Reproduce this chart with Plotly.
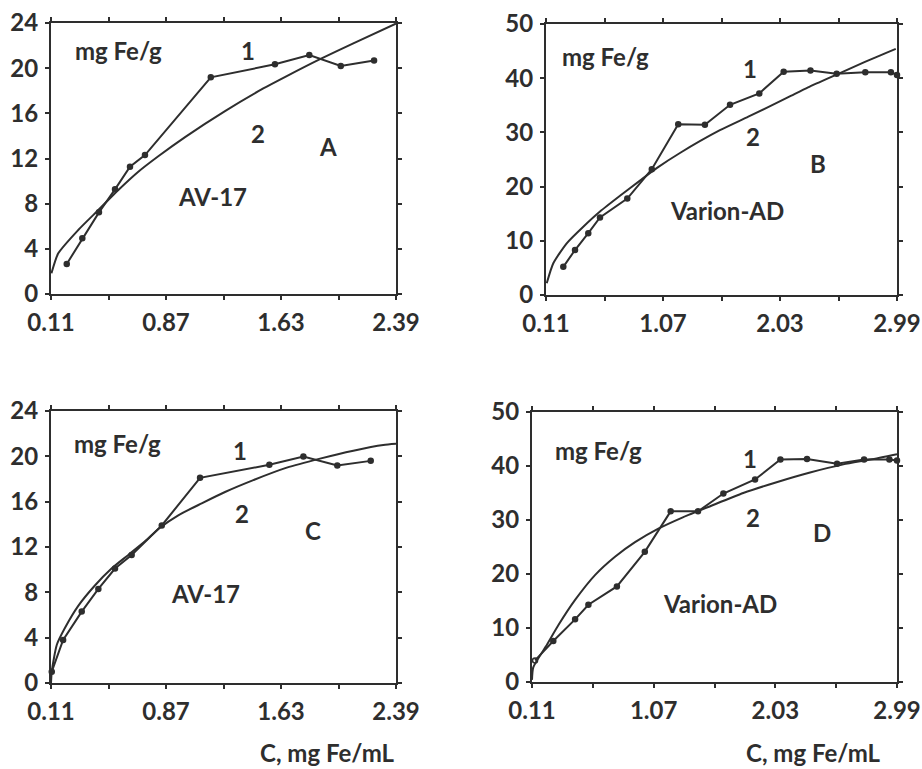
import plotly.graph_objects as go

# ---- Panel A: AV-17 ----
a1_x = [0.214, 0.317, 0.427, 0.533, 0.632, 0.731, 1.166, 1.59, 1.817, 2.025, 2.245]
a1_y = [2.66, 4.93, 7.23, 9.27, 11.28, 12.3, 19.19, 20.34, 21.17, 20.2, 20.67]
a2_x = [0.113, 0.158, 0.29, 0.423, 0.555, 0.687, 0.819, 0.996, 1.26, 1.513, 1.668, 1.888, 2.108, 2.39]
a2_y = [1.83, 3.6, 5.67, 7.44, 9.21, 10.83, 12.2, 13.9, 16.2, 18.2, 19.3, 20.8, 22.2, 23.95]

# ---- Panel B: Varion-AD ----
b1_x = [0.252, 0.348, 0.457, 0.553, 0.777, 0.978, 1.195, 1.414, 1.62, 1.86, 2.06, 2.28, 2.495, 2.73, 2.94, 2.99]
b1_y = [5.2, 8.3, 11.4, 14.3, 17.8, 23.2, 31.5, 31.4, 35.1, 37.2, 41.2, 41.4, 40.8, 41.1, 41.1, 40.6]
b2_x = [0.116, 0.17, 0.28, 0.416, 0.553, 0.717, 0.881, 1.018, 1.209, 1.537, 1.77, 2.098, 2.26, 2.508, 2.727, 2.98]
b2_y = [2.16, 5.85, 9.54, 12.6, 15.4, 18.3, 21.1, 23.4, 26.2, 30.4, 32.9, 36.5, 38.3, 40.8, 43.0, 45.4]

# ---- Panel C: AV-17 ----
c1_x = [0.115, 0.19, 0.313, 0.423, 0.533, 0.643, 0.842, 1.095, 1.553, 1.778, 2.002, 2.223]
c1_y = [1.0, 3.8, 6.3, 8.3, 10.1, 11.3, 13.9, 18.1, 19.25, 19.98, 19.2, 19.6]
c2_x = [0.11, 0.115, 0.148, 0.2, 0.29, 0.4, 0.51, 0.621, 0.731, 0.83, 0.951, 1.106, 1.26, 1.447, 1.668, 1.888, 2.108, 2.306, 2.39]
c2_y = [0.0, 1.0, 3.35, 4.8, 6.8, 8.6, 10.1, 11.3, 12.5, 13.7, 14.8, 15.85, 16.85, 17.9, 19.0, 19.8, 20.5, 21.0, 21.1]

# ---- Panel D: Varion-AD ----
d1_x = [0.134, 0.278, 0.45, 0.555, 0.78, 1.0, 1.204, 1.42, 1.62, 1.87, 2.07, 2.28, 2.517, 2.73, 2.93, 2.99]
d1_y = [4.0, 7.6, 11.6, 14.3, 17.7, 24.1, 31.6, 31.6, 34.9, 37.5, 41.2, 41.3, 40.4, 41.2, 41.2, 41.0]
d2_x = [0.11, 0.12, 0.22, 0.32, 0.45, 0.607, 0.765, 0.923, 1.107, 1.30, 1.52, 1.777, 2.04, 2.304, 2.567, 2.78, 2.99]
d2_y = [0.4, 2.7, 6.6, 10.6, 15.2, 19.8, 23.2, 25.9, 28.4, 30.5, 32.6, 35.0, 37.0, 38.8, 40.3, 41.2, 42.2]

# axis ticks
x_ticks_av = [0.11, 0.49, 0.87, 1.25, 1.63, 2.01, 2.39]
x_text_av = ["0.11", "", "0.87", "", "1.63", "", "2.39"]
x_ticks_var = [0.11, 0.59, 1.07, 1.55, 2.03, 2.51, 2.99]
x_text_var = ["0.11", "", "1.07", "", "2.03", "", "2.99"]
y_ticks_av = [0, 4, 8, 12, 16, 20, 24]
y_ticks_var = [0, 10, 20, 30, 40, 50]

x_title = "C, mg Fe/mL"
y_unit = "mg Fe/g"

INK = "#2e2e2e"
FONT = "Lato, Open Sans, sans-serif"
FS = 24

W, H = 922, 769


def dom_x(a, b):
    return [a / W, b / W]


def dom_y(top, bottom):
    return [1 - bottom / H, 1 - top / H]


panels = [
    # suffix, curve1, curve2, xticks, xtext, yticks, xrange, yrange, x px span, y px span, material, letter
    ("", (a1_x, a1_y), (a2_x, a2_y), x_ticks_av, x_text_av, y_ticks_av, [0.11, 2.39], [0, 24], (51, 396), (23, 294), "AV-17", "A"),
    ("2", (b1_x, b1_y), (b2_x, b2_y), x_ticks_var, x_text_var, y_ticks_var, [0.11, 2.99], [0, 50], (546, 897), (24, 295), "Varion-AD", "B"),
    ("3", (c1_x, c1_y), (c2_x, c2_y), x_ticks_av, x_text_av, y_ticks_av, [0.11, 2.39], [0, 24], (51, 396), (411, 683), "AV-17", "C"),
    ("4", (d1_x, d1_y), (d2_x, d2_y), x_ticks_var, x_text_var, y_ticks_var, [0.11, 2.99], [0, 50], (532, 897), (412, 682), "Varion-AD", "D"),
]

# text positions inside each panel (pixel centres on the page)
label_px = {
    "A": dict(unit=(118, 50), one=(248, 50), two=(258, 133), letter=(328, 147), mat=(212, 197)),
    "B": dict(unit=(605, 57), one=(750, 68), two=(753, 137), letter=(818, 163), mat=(727, 210)),
    "C": dict(unit=(117, 443), one=(240, 450), two=(242, 513), letter=(313, 530), mat=(205, 593)),
    "D": dict(unit=(598, 450), one=(750, 458), two=(753, 517), letter=(822, 532), mat=(720, 603)),
}


def page_text(px, py, txt):
    return dict(x=px / W, y=1 - py / H, xref="paper", yref="paper", text=txt, showarrow=False,
                xanchor="center", yanchor="middle",
                font=dict(family=FONT, size=FS, color=INK, weight="bold"))


fig = go.Figure()
annotations = []

for sfx, c1, c2, xt, xtx, yt, xr, yr, xd, yd, mat, letter in panels:
    xa = "x" + sfx
    ya = "y" + sfx
    fig.add_trace(go.Scatter(
        x=c2[0], y=c2[1], mode="lines", xaxis=xa, yaxis=ya,
        line=dict(color=INK, width=2, shape="spline", smoothing=0.6),
        showlegend=False, cliponaxis=False,
    ))
    symbols = ["circle"] * len(c1[0])
    if letter == "D":
        symbols[0] = "circle-open"
    fig.add_trace(go.Scatter(
        x=c1[0], y=c1[1], mode="lines+markers", xaxis=xa, yaxis=ya,
        line=dict(color=INK, width=2),
        marker=dict(color=INK, size=5, symbol=symbols, line=dict(color=INK, width=1.5)),
        showlegend=False, cliponaxis=False,
    ))
    axis_common = dict(
        showline=True, linecolor=INK, linewidth=2, mirror="ticks",
        ticks="outside", ticklen=4, tickwidth=2, tickcolor=INK,
        showgrid=False, zeroline=False, fixedrange=True, automargin=False,
        tickfont=dict(family=FONT, size=FS, color=INK, weight="bold"),
    )
    fig.update_layout(**{
        ("xaxis" + sfx): dict(
            axis_common, range=xr, tickmode="array", tickvals=xt, ticktext=xtx,
            domain=dom_x(*xd), anchor=ya, ticklabelstandoff=2,
        ),
        ("yaxis" + sfx): dict(
            axis_common, range=yr, tickmode="array", tickvals=yt,
            domain=dom_y(*yd), anchor=xa, ticklabelstandoff=2,
        ),
    })
    p = label_px[letter]
    for key, txt in (("unit", y_unit), ("one", "1"), ("two", "2"), ("letter", letter), ("mat", mat)):
        annotations.append(page_text(p[key][0], p[key][1], txt))

# x-axis titles under the bottom row
annotations.append(page_text(327, 752, x_title))
annotations.append(page_text(813, 752, x_title))

fig.update_layout(
    width=W, height=H,
    margin=dict(l=0, r=0, t=0, b=0),
    paper_bgcolor="white", plot_bgcolor="white",
    annotations=annotations,
)

fig.write_html("out.html")
